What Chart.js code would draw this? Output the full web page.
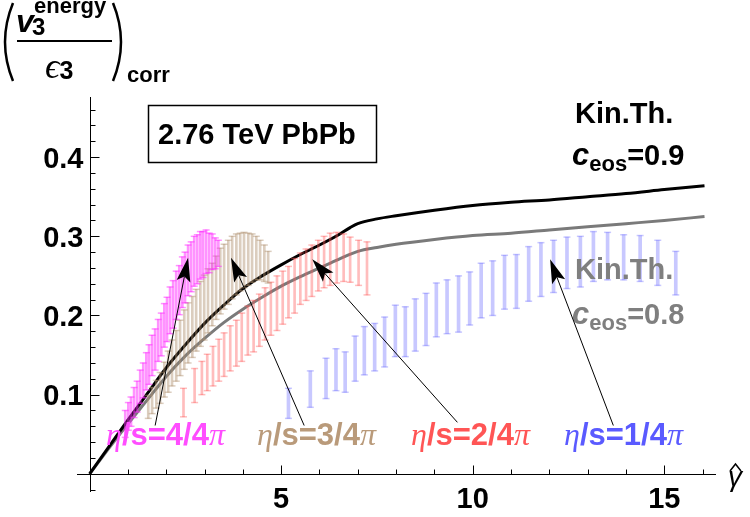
<!DOCTYPE html>
<html>
<head>
<meta charset="utf-8">
<script src="https://cdn.jsdelivr.net/npm/chart.js@4.4.0/dist/chart.umd.min.js"></script>
<style>
  html, body { margin: 0; padding: 0; background: #fff; }
  #wrap { width: 750px; height: 517px; position: relative; }
</style>
</head>
<body>
<div id="wrap"><canvas id="grafico"></canvas></div>
<script>
// Teoría cinética, c_eos = 0.9 (negra) y 0.8 (gris)
const kinX09 = [0, 0.5, 1, 1.5, 2, 2.5, 3, 3.5, 4, 4.5, 5, 5.5, 6, 6.5, 6.8, 7, 7.5, 8, 9, 10, 11, 12, 13, 14, 15, 16.05];
const kinY09 = [0, 0.034, 0.068, 0.101, 0.134, 0.163, 0.19, 0.213, 0.234, 0.25, 0.264, 0.277, 0.289, 0.302, 0.311, 0.316, 0.322, 0.326, 0.333, 0.339, 0.343, 0.346, 0.35, 0.354, 0.359, 0.364];
const kinX08 = [0, 0.5, 1, 1.5, 2, 2.5, 3, 3.5, 4, 4.5, 5, 5.5, 6, 6.5, 7, 7.5, 8, 9, 10, 11, 12, 13, 14, 15, 16.05];
const kinY08 = [0, 0.032, 0.063, 0.093, 0.123, 0.149, 0.171, 0.191, 0.208, 0.223, 0.237, 0.249, 0.26, 0.271, 0.281, 0.286, 0.29, 0.296, 0.301, 0.304, 0.308, 0.312, 0.316, 0.32, 0.325];

// eta/s = 4/4pi
const x4 = [0.93, 1.01, 1.08, 1.16, 1.24, 1.32, 1.40, 1.48, 1.55, 1.63, 1.71, 1.79, 1.87, 1.95, 2.02, 2.10, 2.18, 2.26, 2.34, 2.42, 2.49, 2.57, 2.65, 2.73, 2.81, 2.89, 2.96, 3.04, 3.12, 3.20, 3.28, 3.36];
const hi4 = [0.080, 0.090, 0.097, 0.109, 0.117, 0.131, 0.140, 0.153, 0.163, 0.175, 0.183, 0.195, 0.203, 0.215, 0.223, 0.236, 0.244, 0.256, 0.263, 0.274, 0.280, 0.289, 0.293, 0.300, 0.302, 0.306, 0.306, 0.308, 0.304, 0.303, 0.298, 0.295];
const lo4 = [0.046, 0.055, 0.060, 0.071, 0.078, 0.089, 0.096, 0.106, 0.113, 0.124, 0.131, 0.142, 0.149, 0.160, 0.167, 0.177, 0.184, 0.195, 0.201, 0.210, 0.216, 0.225, 0.230, 0.237, 0.240, 0.246, 0.248, 0.253, 0.254, 0.258, 0.259, 0.262];

// eta/s = 3/4pi
const x3 = [1.53, 1.63, 1.74, 1.84, 1.95, 2.05, 2.15, 2.26, 2.36, 2.47, 2.57, 2.68, 2.78, 2.89, 2.99, 3.09, 3.20, 3.30, 3.41, 3.51, 3.62, 3.72, 3.83, 3.93, 4.03, 4.14, 4.24, 4.35, 4.45, 4.56, 4.66];
const hi3 = [0.099, 0.109, 0.118, 0.128, 0.141, 0.155, 0.169, 0.181, 0.194, 0.207, 0.216, 0.224, 0.233, 0.243, 0.251, 0.259, 0.266, 0.275, 0.285, 0.290, 0.295, 0.300, 0.303, 0.304, 0.305, 0.304, 0.303, 0.300, 0.295, 0.289, 0.281];
const lo3 = [0.070, 0.076, 0.083, 0.089, 0.097, 0.103, 0.111, 0.117, 0.124, 0.132, 0.140, 0.147, 0.155, 0.161, 0.169, 0.178, 0.187, 0.195, 0.202, 0.208, 0.214, 0.221, 0.226, 0.231, 0.235, 0.238, 0.242, 0.245, 0.245, 0.243, 0.241];

// eta/s = 2/4pi
const x2 = [2.45, 2.74, 2.93, 3.07, 3.22, 3.37, 3.51, 3.67, 3.83, 3.97, 4.13, 4.28, 4.43, 4.58, 4.73, 4.89, 5.04, 5.19, 5.35, 5.50, 5.65, 5.80, 5.97, 6.12, 6.28, 6.45, 6.63, 6.80, 7.02, 7.24];
const hi2 = [0.108, 0.133, 0.142, 0.151, 0.161, 0.170, 0.178, 0.187, 0.194, 0.203, 0.212, 0.219, 0.227, 0.235, 0.242, 0.250, 0.256, 0.262, 0.272, 0.279, 0.284, 0.289, 0.295, 0.300, 0.304, 0.305, 0.303, 0.299, 0.295, 0.293];
const lo2 = [0.072, 0.090, 0.100, 0.105, 0.111, 0.117, 0.123, 0.130, 0.136, 0.142, 0.150, 0.154, 0.161, 0.169, 0.175, 0.181, 0.189, 0.197, 0.203, 0.214, 0.219, 0.224, 0.231, 0.235, 0.238, 0.241, 0.243, 0.242, 0.238, 0.226];

// eta/s = 1/4pi
const x1 = [5.19, 5.76, 6.17, 6.43, 6.67, 6.93, 7.17, 7.44, 7.70, 7.98, 8.24, 8.50, 8.78, 9.05, 9.33, 9.63, 9.92, 10.22, 10.52, 10.83, 11.14, 11.46, 11.78, 12.11, 12.46, 12.81, 13.15, 13.52, 13.94, 14.37, 14.83, 15.30];
const hi1 = [0.108, 0.130, 0.146, 0.158, 0.154, 0.174, 0.186, 0.190, 0.198, 0.213, 0.211, 0.221, 0.228, 0.241, 0.245, 0.250, 0.255, 0.266, 0.269, 0.276, 0.277, 0.287, 0.292, 0.295, 0.299, 0.300, 0.306, 0.305, 0.302, 0.301, 0.295, 0.281];
const lo1 = [0.070, 0.084, 0.095, 0.105, 0.103, 0.117, 0.125, 0.130, 0.135, 0.148, 0.148, 0.155, 0.162, 0.173, 0.177, 0.179, 0.188, 0.197, 0.200, 0.208, 0.209, 0.218, 0.224, 0.229, 0.234, 0.236, 0.243, 0.245, 0.245, 0.243, 0.238, 0.226];

// Ejes
const xTicks = [5, 10, 15];
const yTicks = [0.1, 0.2, 0.3, 0.4];

// Flechas: [x cola, y cola, x punta, y punta]
const flechas = [
  [1.71, 0.061, 2.57, 0.273],
  [5.60, 0.061, 3.69, 0.273],
  [9.60, 0.065, 5.81, 0.271],
  [13.67, 0.061, 12.02, 0.271]
];

const colMag = 'rgba(255, 40, 255, 0.5)';
const colTan = 'rgba(175, 145, 110, 0.45)';
const colRojo = 'rgba(255, 90, 90, 0.4)';
const colAzul = 'rgba(110, 110, 255, 0.38)';

function pares(xs, ys) {
  return xs.map((x, i) => ({ x: x, y: ys[i] }));
}

function barras(xs, lo, hi, color, grosor, orden) {
  return [
    { type: 'bar', data: xs.map((x, i) => ({ x: x, y: [lo[i], hi[i]] })),
      backgroundColor: color, barThickness: grosor, grouped: false, borderWidth: 0, order: orden },
    { type: 'scatter', data: pares(xs, hi), pointStyle: 'line', pointRadius: 3.5,
      borderColor: color, borderWidth: 1.5, order: orden },
    { type: 'scatter', data: pares(xs, lo), pointStyle: 'line', pointRadius: 3.5,
      borderColor: color, borderWidth: 1.5, order: orden }
  ];
}

function texto(ctx, partes, x, y) {
  partes.forEach(p => {
    ctx.font = p[1];
    ctx.fillText(p[0], x, y + (p[2] || 0));
    x += ctx.measureText(p[0]).width;
  });
  return x;
}

function flecha(ctx, x1, y1, x2, y2) {
  const ang = Math.atan2(y2 - y1, x2 - x1);
  const L = 24, W = 7;
  ctx.beginPath();
  ctx.moveTo(x1, y1);
  ctx.lineTo(x2 - Math.cos(ang) * L * 0.8, y2 - Math.sin(ang) * L * 0.8);
  ctx.stroke();
  ctx.save();
  ctx.translate(x2, y2);
  ctx.rotate(ang);
  ctx.beginPath();
  ctx.moveTo(0, 0);
  ctx.lineTo(-L, -W);
  ctx.lineTo(-L * 0.8, 0);
  ctx.lineTo(-L, W);
  ctx.closePath();
  ctx.fill();
  ctx.restore();
}

const B = '"Liberation Sans", Arial, sans-serif';
const S = '"Liberation Serif", serif';

const decoracion = {
  id: 'decoracion',
  afterDatasetsDraw(chart) {
    const ctx = chart.ctx;
    const sx = chart.scales.x, sy = chart.scales.y;
    const X = v => sx.getPixelForValue(v);
    const Y = v => sy.getPixelForValue(v);
    const x0 = Math.round(X(0)) + 0.5;
    const y0 = Math.round(Y(0)) + 0.5;
    ctx.save();

    // ejes
    ctx.strokeStyle = '#000';
    ctx.lineWidth = 1;
    ctx.beginPath();
    ctx.moveTo(sx.left, y0); ctx.lineTo(sx.right, y0);
    ctx.moveTo(x0, sy.top); ctx.lineTo(x0, sy.bottom);
    for (let k = 1; k <= 16; k++) {
      const px = Math.round(X(k)) + 0.5;
      ctx.moveTo(px, y0);
      ctx.lineTo(px, y0 - (k % 5 === 0 ? 9 : 5));
    }
    for (let k = -1; k <= 23; k++) {
      if (k === 0) continue;
      const py = Math.round(Y(k * 0.02)) + 0.5;
      ctx.moveTo(x0, py);
      ctx.lineTo(x0 + (k % 5 === 0 ? 9 : 5), py);
    }
    ctx.stroke();

    ctx.fillStyle = '#000';
    ctx.font = 'bold 29px ' + B;
    ctx.textAlign = 'center';
    xTicks.forEach(v => ctx.fillText(String(v), X(v), 508));
    ctx.textAlign = 'right';
    yTicks.forEach(v => ctx.fillText(v.toFixed(1), x0 - 7, Y(v) + 10.5));
    ctx.textAlign = 'left';

    // título del eje y
    ctx.lineWidth = 2.5;
    ctx.beginPath();
    ctx.moveTo(13, 3); ctx.quadraticCurveTo(-3, 42, 13, 81);
    ctx.moveTo(113, 3); ctx.quadraticCurveTo(129, 42, 113, 81);
    ctx.stroke();
    ctx.lineWidth = 2;
    ctx.beginPath();
    ctx.moveTo(17, 41); ctx.lineTo(112, 41);
    ctx.stroke();
    texto(ctx, [['v', 'italic bold 32px ' + B]], 16, 32);
    texto(ctx, [['3', 'bold 24px ' + B]], 32, 35);
    texto(ctx, [['energy', 'bold 22px ' + B]], 34, 13);
    texto(ctx, [['\u03f5', 'italic 36px ' + S], ['3', 'bold 25px ' + B, 1]], 45, 78);
    texto(ctx, [['corr', 'bold 22px ' + B]], 127, 82);

    // título del eje x
    ctx.font = 'italic 28px ' + B;
    ctx.textAlign = 'center';
    ctx.fillText('\u03b3', 735, 486);
    ctx.textAlign = 'left';
    ctx.lineWidth = 1.5;
    ctx.beginPath();
    ctx.moveTo(730, 471); ctx.lineTo(735.5, 464); ctx.lineTo(741, 471);
    ctx.stroke();

    // recuadro
    ctx.lineWidth = 1.5;
    ctx.strokeRect(148.5, 105.5, 228, 57);
    texto(ctx, [['2.76 TeV PbPb', 'bold 29px ' + B]], 158, 144);

    // etiquetas teoría cinética
    texto(ctx, [['Kin.Th.', 'bold 29px ' + B]], 575, 123);
    texto(ctx, [['c', 'italic bold 31px ' + B], ['eos', 'bold 22px ' + B, 6], ['=0.9', 'bold 29px ' + B]], 572, 165);
    ctx.fillStyle = '#7f7f7f';
    texto(ctx, [['Kin.Th.', 'bold 29px ' + B]], 575, 279);
    texto(ctx, [['c', 'italic bold 31px ' + B], ['eos', 'bold 22px ' + B, 6], ['=0.8', 'bold 29px ' + B]], 572, 324);

    // etiquetas eta/s
    const etiquetas = [
      ['4', '#ff4dff', 106], ['3', '#b99a7a', 257], ['2', '#ff5555', 411], ['1', '#5a5aff', 564]
    ];
    etiquetas.forEach(e => {
      ctx.fillStyle = e[1];
      texto(ctx, [['\u03b7', 'italic 32px ' + S], ['/s=' + e[0] + '/4', 'bold 31px ' + B], ['\u03c0', 'italic 32px ' + S]], e[2], 445);
    });

    // flechas
    ctx.strokeStyle = '#000';
    ctx.fillStyle = '#000';
    ctx.lineWidth = 1;
    flechas.forEach(f => flecha(ctx, X(f[0]), Y(f[1]), X(f[2]), Y(f[3])));
    ctx.restore();
  }
};

const ctxGrafico = document.getElementById('grafico').getContext('2d');
const miGrafico = new Chart(ctxGrafico, {
  type: 'line',
  data: {
    datasets: [
      { type: 'line', data: pares(kinX09, kinY09), borderColor: '#000', borderWidth: 3,
        pointRadius: 0, cubicInterpolationMode: 'monotone', order: 10 },
      { type: 'line', data: pares(kinX08, kinY08), borderColor: '#7a7a7a', borderWidth: 3,
        pointRadius: 0, cubicInterpolationMode: 'monotone', order: 11 },
      ...barras(x1, lo1, hi1, colAzul, 3, 5),
      ...barras(x2, lo2, hi2, colRojo, 2, 4),
      ...barras(x3, lo3, hi3, colTan, 2, 3),
      ...barras(x4, lo4, hi4, colMag, 2, 2)
    ]
  },
  options: {
    responsive: true,
    maintainAspectRatio: false,
    animation: false,
    events: [],
    layout: { padding: { left: 77, right: 34, top: 97, bottom: 25 } },
    scales: {
      x: { type: 'linear', min: -0.33, max: 16.35, offset: false, display: false },
      y: { type: 'linear', min: -0.023, max: 0.476, display: false }
    },
    plugins: {
      legend: { display: false },
      tooltip: { enabled: false }
    }
  },
  plugins: [decoracion]
});
</script>
</body>
</html>
